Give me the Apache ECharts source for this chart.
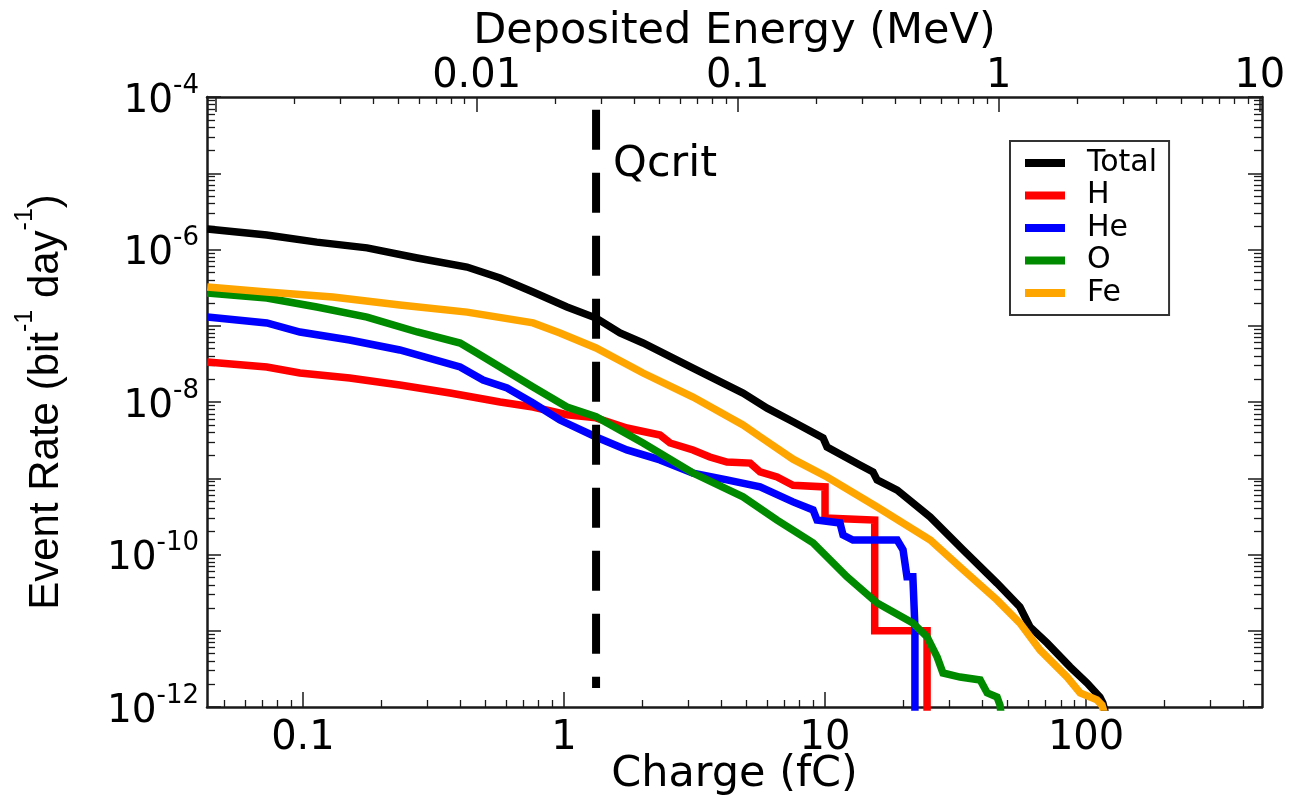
<!DOCTYPE html>
<html><head><meta charset="utf-8">
<script src="https://cdn.jsdelivr.net/npm/echarts@6/dist/echarts.min.js"></script>
<style>html,body{margin:0;padding:0;background:#fff}#c{width:1293px;height:798px}</style>
</head><body><div id="c"></div>
<script>
// ---------------- data ----------------
const SERIES_NAMES = ['Total', 'H', 'He', 'O', 'Fe'];
const SERIES_COLORS = ['#000000', '#ff0000', '#0000ff', '#008a00', '#ffa500'];

const totalCharge = [0.043, 0.0727, 0.113, 0.176, 0.274, 0.425, 0.569, 0.761, 1.027, 1.327, 1.639, 2.008, 3.12, 4.85, 6.0, 7.54, 9.83, 10.18, 13.6, 15.27, 15.83, 18.9, 25.3, 33.8, 45.6, 55.8, 61.0, 70.9, 86.9, 100.9, 113, 116, 119];
const totalRate = [1.86e-6, 1.55e-6, 1.25e-6, 1.05e-6, 7.74e-7, 5.89e-7, 4.23e-7, 2.77e-7, 1.76e-7, 1.26e-7, 8.04e-8, 5.94e-8, 2.79e-8, 1.31e-8, 8.3e-9, 5.5e-9, 3.37e-9, 2.57e-9, 1.49e-9, 1.21e-9, 9.5e-10, 7.0e-10, 3.10e-10, 1.15e-10, 4.2e-11, 2.05e-11, 1.12e-11, 6.9e-12, 3.35e-12, 2.06e-12, 1.35e-12, 1.13e-12, 8e-13];

const hCharge = [0.043, 0.0727, 0.0974, 0.151, 0.235, 0.366, 0.569, 0.761, 1.027, 1.327, 1.742, 2.333, 2.548, 3.12, 3.62, 4.21, 5.17, 5.64, 6.55, 7.54, 10.0, 10.0, 15.5, 15.5, 24.6, 24.6];
const hRate = [3.35e-8, 2.88e-8, 2.40e-8, 2.06e-8, 1.67e-8, 1.31e-8, 1.0e-8, 8.6e-9, 6.8e-9, 6.2e-9, 4.56e-9, 3.69e-9, 2.90e-9, 2.35e-9, 1.90e-9, 1.63e-9, 1.58e-9, 1.21e-9, 1.04e-9, 8.1e-10, 7.7e-10, 3.0e-10, 2.83e-10, 1.0e-11, 1.0e-11, 5e-13];

const heCharge = [0.043, 0.0727, 0.0974, 0.151, 0.235, 0.400, 0.490, 0.605, 0.761, 0.965, 1.327, 1.742, 2.333, 3.12, 4.21, 5.64, 7.54, 9.0, 9.32, 11.41, 11.72, 12.79, 18.9, 19.9, 20.6, 21.7, 22.1, 22.1];
const heRate = [1.30e-7, 1.09e-7, 8.28e-8, 6.50e-8, 4.81e-8, 2.88e-8, 1.94e-8, 1.53e-8, 9.7e-9, 5.8e-9, 3.48e-9, 2.35e-9, 1.74e-9, 1.17e-9, 9.5e-10, 7.7e-10, 4.9e-10, 3.84e-10, 2.83e-10, 2.59e-10, 1.80e-10, 1.55e-10, 1.55e-10, 1.15e-10, 5.1e-11, 5.1e-11, 1.12e-11, 5e-13];

const oCharge = [0.043, 0.0727, 0.113, 0.176, 0.274, 0.400, 0.464, 0.569, 0.761, 1.027, 1.327, 2.008, 3.12, 4.85, 6.55, 9.0, 12.14, 15.83, 21.7, 24.6, 26.9, 28.3, 32.9, 39.3, 41.8, 45.6, 46.8, 47.5];
const oRate = [2.69e-7, 2.31e-7, 1.76e-7, 1.30e-7, 8.28e-8, 5.94e-8, 4.39e-8, 2.88e-8, 1.57e-8, 8.6e-9, 6.4e-9, 2.90e-9, 1.17e-9, 5.7e-10, 2.83e-10, 1.42e-10, 5.1e-11, 2.31e-11, 1.26e-11, 8.3e-12, 4.5e-12, 2.79e-12, 2.47e-12, 2.26e-12, 1.53e-12, 1.35e-12, 1.06e-12, 7e-13];

const feCharge = [0.043, 0.0727, 0.130, 0.235, 0.425, 0.761, 0.965, 1.327, 2.008, 3.12, 4.85, 5.64, 7.54, 10.18, 15.83, 25.3, 33.8, 45.6, 55.8, 66.6, 84.6, 94.9, 110, 115, 118];
const feRate = [3.22e-7, 2.77e-7, 2.38e-7, 1.87e-7, 1.51e-7, 1.09e-7, 8.04e-8, 5.11e-8, 2.40e-8, 1.16e-8, 5.0e-9, 3.5e-9, 1.78e-9, 1.04e-9, 4.20e-10, 1.55e-10, 6.3e-11, 2.53e-11, 1.26e-11, 5.6e-12, 2.47e-12, 1.53e-12, 1.24e-12, 1.06e-12, 8e-13];

const QCRIT = 1.327;                       // fC
const QCRIT_LINE_RATES = [6.8e-5, 1.78e-12]; // vertical extent of the marker line
const QCRIT_LABEL_RATE = 1.28e-5;

// axes
const CHARGE_RANGE = [0.0429, 472];        // fC
const ENERGY_PER_CHARGE = 0.0216;          // MeV per fC
const RATE_RANGE = [1e-12, 1e-4];
const CHARGE_TICKS = [0.1, 1, 10, 100];
const CHARGE_TICK_LABELS = ['0.1', '1', '10', '100'];
const ENERGY_TICKS = [0.001, 0.01, 0.1, 1, 10];
const ENERGY_LABEL_TICKS = [0.01, 0.1, 1, 10];
const ENERGY_TICK_LABELS = ['0.01', '0.1', '1', '10'];
const RATE_TICKS = [1e-12, 1e-11, 1e-10, 1e-9, 1e-8, 1e-7, 1e-6, 1e-5, 1e-4];
const RATE_LABEL_TICKS = [1e-12, 1e-10, 1e-8, 1e-6, 1e-4];
const MINOR_MULTIPLIERS = [2, 3, 4, 5, 6, 7, 8, 9];

// ---------------- build ----------------
const L = Math.log10;
const FONT = 'DejaVu Sans';
const AX = '#1a1a1a';

function minorTicks(majors) {
  const out = [];
  const d0 = Math.floor(L(majors[0])) - 1, d1 = Math.ceil(L(majors[majors.length - 1]));
  for (let d = d0; d <= d1; d++) MINOR_MULTIPLIERS.forEach(m => out.push(L(m) + d));
  return out;
}
function lookup(ticks, labels) {
  return v => { for (let i = 0; i < ticks.length; i++) if (Math.abs(L(ticks[i]) - v) < 1e-6) return labels[i]; return ''; };
}
const qMin = L(CHARGE_RANGE[0]), qMax = L(CHARGE_RANGE[1]);
const eOff = L(ENERGY_PER_CHARGE);
const rMin = L(RATE_RANGE[0]), rMax = L(RATE_RANGE[1]);

function majorAxis(pos, min, max, ticks, labelTicks, fmt, extra) {
  return Object.assign({
    type: 'value', position: pos, min: min, max: max,
    axisLine: { show: true, onZero: false, lineStyle: { color: AX, width: 2.5 } },
    axisTick: { show: true, inside: true, length: 15, customValues: ticks.map(L), lineStyle: { color: AX, width: 1.5 } },
    axisLabel: fmt ? { show: true, customValues: labelTicks.map(L), formatter: fmt, fontFamily: FONT, fontSize: 40, color: '#000' } : { show: false },
    splitLine: { show: false }, axisPointer: { show: false }
  }, extra || {});
}
function minorAxis(pos, min, max, ticks, len) {
  return {
    type: 'value', position: pos, min: min, max: max,
    axisLine: { show: false, onZero: false },
    axisTick: { show: true, inside: true, length: len, customValues: minorTicks(ticks), lineStyle: { color: AX, width: 1.3 } },
    axisLabel: { show: false }, splitLine: { show: false }
  };
}

const xAxis = [
  majorAxis('bottom', qMin, qMax, CHARGE_TICKS, CHARGE_TICKS, lookup(CHARGE_TICKS, CHARGE_TICK_LABELS), {
    name: 'Charge (fC)', nameLocation: 'middle', nameGap: 46, nameMoveOverlap: false,
    nameTextStyle: { fontFamily: FONT, fontSize: 43, color: '#000' }
  }),
  minorAxis('bottom', qMin, qMax, CHARGE_TICKS, 7),
  majorAxis('top', qMin + eOff, qMax + eOff, ENERGY_TICKS, ENERGY_LABEL_TICKS, lookup(ENERGY_LABEL_TICKS, ENERGY_TICK_LABELS), {
    name: 'Deposited Energy (MeV)', nameLocation: 'middle', nameGap: 44, nameMoveOverlap: false,
    nameTextStyle: { fontFamily: FONT, fontSize: 43, color: '#000' }
  }),
  minorAxis('top', qMin + eOff, qMax + eOff, ENERGY_TICKS, 7)
];
xAxis[0].axisLabel.margin = 12;
xAxis[2].axisLabel.margin = 0;

const yFmt = v => '{b|10}{s|' + Math.round(v) + '}';
const yAxis = [
  majorAxis('left', rMin, rMax, RATE_TICKS, RATE_LABEL_TICKS, yFmt, {
    name: '{n|Event Rate (bit}{s|-1}{n| day}{s|-1}{n|)}', nameLocation: 'middle', nameGap: 140, nameRotate: 90, nameMoveOverlap: false,
    nameTextStyle: {
      rich: {
        n: { fontFamily: 'Liberation Sans', fontSize: 42, lineHeight: 54, verticalAlign: 'bottom', color: '#000' },
        s: { fontFamily: 'Liberation Sans', fontSize: 25, lineHeight: 54, verticalAlign: 'top', color: '#000' }
      }
    }
  }),
  minorAxis('left', rMin, rMax, RATE_TICKS, 8),
  majorAxis('right', rMin, rMax, RATE_TICKS, null, null),
  minorAxis('right', rMin, rMax, RATE_TICKS, 8)
];
yAxis[0].axisTick.length = 14;
yAxis[2].axisTick.length = 14;
Object.assign(yAxis[0].axisLabel, {
  margin: 8,
  rich: {
    b: { fontFamily: FONT, fontSize: 39, lineHeight: 48, verticalAlign: 'bottom', color: '#000' },
    s: { fontFamily: FONT, fontSize: 26, lineHeight: 48, verticalAlign: 'top', color: '#000' }
  }
});

const pairs = [[totalCharge, totalRate], [hCharge, hRate], [heCharge, heRate], [oCharge, oRate], [feCharge, feRate]];
const series = pairs.map((p, i) => ({
  name: SERIES_NAMES[i], type: 'line', xAxisIndex: 0, yAxisIndex: 0,
  data: p[0].map((q, j) => [L(q), L(p[1][j])]),
  symbol: 'none', clip: true, silent: true,
  lineStyle: { color: SERIES_COLORS[i], width: 7.5, join: 'miter' },
  itemStyle: { color: SERIES_COLORS[i] },
  z: 3 + i
}));
series.push({
  name: 'Qcrit', type: 'line', xAxisIndex: 0, yAxisIndex: 0, symbol: 'none', silent: true, z: 20,
  data: QCRIT_LINE_RATES.map(r => [L(QCRIT), L(r)]),
  lineStyle: { color: '#000', width: 8, type: [40, 23], cap: 'butt' }
});
series.push({
  name: 'QcritLabel', type: 'scatter', xAxisIndex: 0, yAxisIndex: 0, symbolSize: 0, silent: true, z: 20,
  data: [[L(QCRIT), L(QCRIT_LABEL_RATE)]],
  itemStyle: { opacity: 1 },
  label: { show: true, formatter: 'Qcrit', position: 'right', distance: 17, fontFamily: FONT, fontSize: 43, color: '#000', opacity: 1 }
});

const chart = echarts.init(document.getElementById('c'), null, { renderer: 'canvas' });
chart.setOption({
  animation: false,
  backgroundColor: '#fff',
  grid: { left: 207, top: 97, width: 1055, height: 610, containLabel: false, outerBoundsMode: 'none' },
  legend: {
    data: SERIES_NAMES, orient: 'vertical', left: 1010, top: 141,
    icon: 'rect', itemWidth: 40, itemHeight: 8, itemGap: 2.5,
    padding: [7, 12, 7, 15], borderColor: '#333', borderWidth: 2,
    selectedMode: false, itemStyle: { borderWidth: 0 },
    textStyle: { fontFamily: FONT, fontSize: 30, color: '#000', lineHeight: 27, padding: [0, 0, 0, 17] }
  },
  xAxis: xAxis,
  yAxis: yAxis,
  series: series
});
</script></body></html>
